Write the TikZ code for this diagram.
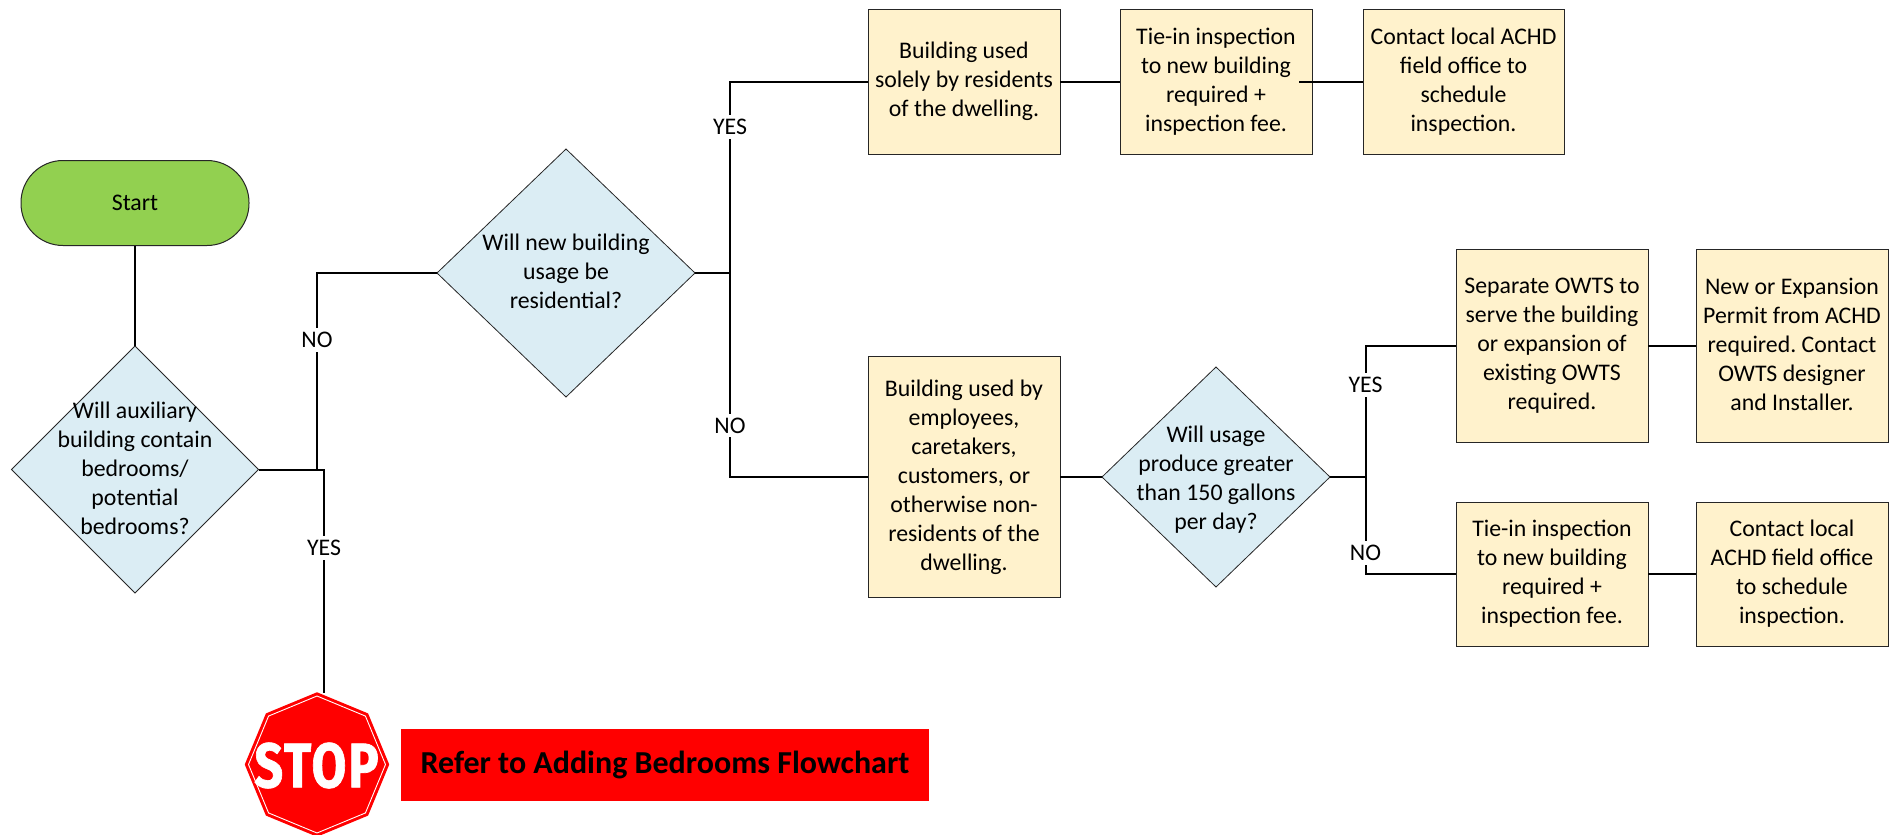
\documentclass[tikz,border=0pt]{standalone}
\usepackage{fontspec}
\setmainfont{Carlito}
\newfontfamily\stopfont[FakeBold=1.2,LetterSpace=4]{Fira Sans Bold}
\usetikzlibrary{shapes.geometric,shapes.misc}
\newcommand{\topstrut}{\rule{0pt}{26.3pt}}
\newcommand{\botstrut}{\rule[-2.7pt]{0pt}{2.7pt}}
\frenchspacing
\tikzset{
  every node/.style={outer sep=0pt,inner sep=0pt},
  txt/.style={align=center,font=\fontsize{23.8}{29}\selectfont\frenchspacing,text=black},
  captxt/.style={txt,execute at begin node=\topstrut,execute at end node=\botstrut},
  box/.style={captxt,draw=black!85,line width=1pt,fill=boxfill},
  boxa/.style={box,minimum width=192pt,minimum height=145pt},
  boxb/.style={box,minimum width=192pt,minimum height=144pt},
  boxc/.style={box,minimum width=192pt,minimum height=193pt},
  dia/.style={diamond,draw=black!85,line width=.8pt,fill=diafill,aspect=1},
  lab/.style={txt,fill=white,inner xsep=1pt,inner ysep=4pt},
  conn/.style={draw=black,line width=2pt,line join=miter},
  octa/.style={regular polygon,regular polygon sides=8,fill=stopred},
}
\definecolor{boxfill}{HTML}{FFF2CC}
\definecolor{diafill}{HTML}{DBEDF4}
\definecolor{startfill}{HTML}{92D050}
\definecolor{stopred}{HTML}{FF0000}
\begin{document}
\begin{tikzpicture}[x=1pt,y=-1pt]
\useasboundingbox (0,0) rectangle (1895,835);
\fill[white] (0,0) rectangle (1895,835);
% junction coordinates
\coordinate (j1) at (317,469.5);
\coordinate (j1b) at (324,469.5);
\coordinate (j2) at (730,273);
\coordinate (j3) at (1365.5,477);
% shapes
\node[txt,draw=black!85,line width=1pt,fill=startfill,rounded corners=42pt,minimum width=228pt,minimum height=85pt] (start) at (135,203) {Start};
\node[dia,minimum width=247pt,minimum height=247pt] (d1) at (135,469.5) {};
\node[dia,minimum width=258pt,minimum height=248pt] (d2) at (566,273) {};
\node[dia,minimum width=228pt,minimum height=220pt] (d3) at (1216,477) {};
\node[boxa] (b1) at (964,81.5) {Building used\\solely by residents\\of the dwelling.};
\node[boxa] (b2) at (1216,81.5) {Tie-in inspection\\to new building\\required +\\inspection fee.};
\node[boxa,minimum width=201pt] (b3) at (1463.5,81.5) {Contact local ACHD\\field office to\\schedule\\inspection.};
\node[box,minimum width=192pt,minimum height=241pt] (b4) at (964,477) {Building used by\\employees,\\caretakers,\\customers, or\\otherwise non-\\residents of the\\dwelling.};
\node[boxc] (b5) at (1552,345.5) {Separate OWTS to\\serve the building\\or expansion of\\existing OWTS\\required.};
\node[boxc] (b6) at (1792,345.5) {New or Expansion\\Permit from ACHD\\required. Contact\\OWTS designer\\and Installer.};
\node[boxb] (b7) at (1552,574) {Tie-in inspection\\to new building\\required +\\inspection fee.};
\node[boxb] (b8) at (1792,574) {Contact local\\ACHD field office\\to schedule\\inspection.};
% diamond captions
\node[captxt] (d1t) at (d1) {Will auxiliary\\building contain\\bedrooms/\\potential\\bedrooms?};
\node[captxt] (d2t) at (d2) {Will new building\\usage be\\residential?};
\node[captxt,yshift=-2.5pt] (d3t) at (d3) {Will usage\\produce greater\\than 150 gallons\\per day?};
% stop sign
\node[octa,minimum size=144.5pt,rotate=22.5] (stop) at (317,764.5) {};
\node[octa,minimum size=137pt,rotate=22.5,draw=white,line width=.9pt] (stopin) at (stop) {};
\node[text=white,font=\fontsize{63}{63}\stopfont] (stopt) at (316.5,765.5) {\scalebox{.8}[1]{STOP}};
\node[fill=stopred,minimum width=528pt,minimum height=72pt,font=\fontsize{32}{36}\selectfont\bfseries,text=black] (ref) at (665,765) {Refer to Adding Bedrooms Flowchart};
% connectors
\coordinate (b2out) at (1299,81.5);
\coordinate (stoptop) at (324,693);
\draw[conn] (start) -- (d1);
\draw[conn] (d1.east) -- (j1) |- (d2.west);
\draw[conn] (d1.east) -- (j1b) -- (stoptop);
\draw[conn] (d2.east) -- (j2);
\draw[conn] (j2) |- (b1.west);
\draw[conn] (j2) |- (b4.west);
\draw[conn] (b1) -- (b2);
\draw[conn] (b2out) -- (b3.west);
\draw[conn] (b4.east) -- (d3.west);
\draw[conn] (d3.east) -- (j3);
\draw[conn] (j3) |- (b5.west);
\draw[conn] (j3) |- (b7.west);
\draw[conn] (b5) -- (b6);
\draw[conn] (b7) -- (b8);
% branch labels
\node[lab] (l1) at (317,340) {NO};
\node[lab] (l2) at (324,548) {YES};
\node[lab] (l3) at (730,127) {YES};
\node[lab] (l4) at (730,425.5) {NO};
\node[lab] (l5) at (1365.5,385) {YES};
\node[lab] (l6) at (1365.5,553) {NO};
\end{tikzpicture}
\end{document}
